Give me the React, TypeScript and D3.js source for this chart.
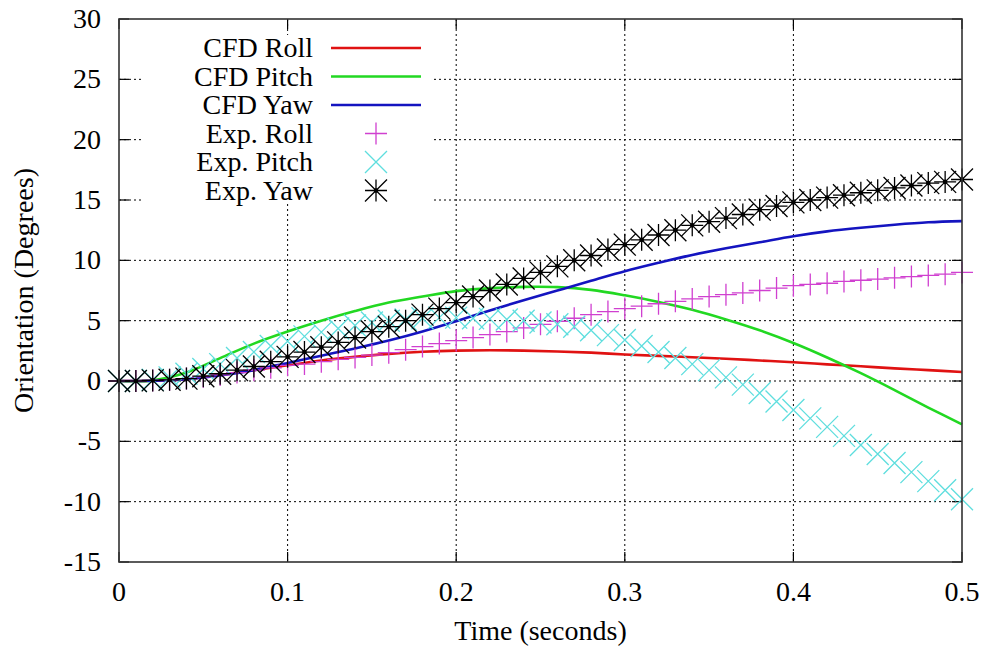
import React from "react";
import * as d3 from "d3";

// Sample times (seconds) for the experimental measurements
const expTime = [
  0, 0.01, 0.02, 0.03, 0.04, 0.05, 0.06, 0.07, 0.08, 0.09,
  0.1, 0.11, 0.12, 0.13, 0.14, 0.15, 0.16, 0.17, 0.18, 0.19,
  0.2, 0.21, 0.22, 0.23, 0.24, 0.25, 0.26, 0.27, 0.28, 0.29,
  0.3, 0.31, 0.32, 0.33, 0.34, 0.35, 0.36, 0.37, 0.38, 0.39,
  0.4, 0.41, 0.42, 0.43, 0.44, 0.45, 0.46, 0.47, 0.48, 0.49, 0.5,
];

const expRoll = [
  0, 0, 0.05, 0.1, 0.2, 0.35, 0.5, 0.7, 0.9, 1.1,
  1.3, 1.4, 1.6, 1.8, 1.95, 2.15, 2.35, 2.6, 2.85, 3.1,
  3.35, 3.6, 3.85, 4.1, 4.4, 4.7, 4.95, 5.2, 5.5, 5.75,
  6.0, 6.2, 6.4, 6.6, 6.8, 7.0, 7.15, 7.3, 7.5, 7.7,
  7.9, 8.0, 8.1, 8.25, 8.35, 8.45, 8.55, 8.65, 8.75, 8.85, 9.0,
];

const expPitch = [
  0, 0, 0.1, 0.3, 0.6, 1.0, 1.4, 1.9, 2.4, 2.9,
  3.3, 3.7, 4.05, 4.35, 4.6, 4.85, 5.0, 5.1, 5.2, 5.25,
  5.25, 5.2, 5.15, 5.1, 5.0, 4.85, 4.7, 4.5, 4.2, 3.8,
  3.4, 2.9, 2.4, 1.9, 1.4, 0.9, 0.3, -0.3, -1.0, -1.7,
  -2.4, -3.1, -3.8, -4.55, -5.3, -6.05, -6.8, -7.55, -8.3, -9.05, -9.8,
];

const expYaw = [
  0, 0, 0.05, 0.1, 0.2, 0.4, 0.6, 0.9, 1.2, 1.6,
  2.0, 2.4, 2.8, 3.2, 3.6, 4.1, 4.5, 5.0, 5.5, 6.0,
  6.5, 7.0, 7.5, 8.0, 8.5, 9.0, 9.5, 10.0, 10.4, 10.9,
  11.3, 11.7, 12.1, 12.5, 12.9, 13.2, 13.5, 13.8, 14.2, 14.5,
  14.8, 15.0, 15.2, 15.4, 15.6, 15.8, 16.0, 16.2, 16.4, 16.5, 16.7,
];

// Simulation output times (seconds)
const cfdTime = [
  0, 0.02, 0.04, 0.06, 0.08, 0.1, 0.12, 0.14, 0.16, 0.18, 0.2, 0.22, 0.24,
  0.26, 0.28, 0.3, 0.32, 0.34, 0.36, 0.38, 0.4, 0.42, 0.44, 0.46, 0.48, 0.5,
];

const cfdRoll = [
  0, 0.02, 0.15, 0.5, 0.9, 1.3, 1.7, 2.0, 2.25, 2.42, 2.52, 2.55, 2.52,
  2.45, 2.35, 2.2, 2.08, 1.97, 1.85, 1.7, 1.55, 1.38, 1.22, 1.05, 0.9, 0.75,
];

const cfdPitch = [
  0, 0.05, 0.7, 1.9, 3.1, 4.1, 5.0, 5.8, 6.5, 7.0, 7.45, 7.7, 7.8,
  7.78, 7.55, 7.1, 6.55, 5.9, 5.1, 4.2, 3.15, 1.95, 0.65, -0.75, -2.2, -3.6,
];

const cfdYaw = [
  0, 0.02, 0.15, 0.45, 0.9, 1.5, 2.1, 2.7, 3.35, 4.1, 4.95, 5.85, 6.7,
  7.5, 8.3, 9.1, 9.8, 10.45, 11.0, 11.5, 12.0, 12.4, 12.7, 12.95, 13.15, 13.25,
];

const xTicks = [0, 0.1, 0.2, 0.3, 0.4, 0.5];
const yTicks = [-15, -10, -5, 0, 5, 10, 15, 20, 25, 30];

const legendLabels = ["CFD Roll", "CFD Pitch", "CFD Yaw", "Exp. Roll", "Exp. Pitch", "Exp. Yaw"];

const W = 988;
const H = 650;
const plot = { left: 119, right: 962, top: 19, bottom: 562 };
const FONT = "'Liberation Serif', 'Times New Roman', serif";

const COLORS = {
  roll: "#e01212",
  pitch: "#22d822",
  yaw: "#1414c0",
  expRoll: "#d040d0",
  expPitch: "#5edede",
  expYaw: "#000000",
};

type MarkerKind = "plus" | "cross" | "star";

function markerPath(kind: MarkerKind, x: number, y: number): string {
  const s = 11;
  const plus = `M${x - s},${y}H${x + s}M${x},${y - s}V${y + s}`;
  const cross = `M${x - s},${y - s}L${x + s},${y + s}M${x - s},${y + s}L${x + s},${y - s}`;
  if (kind === "plus") return plus;
  if (kind === "cross") return cross;
  return plus + cross;
}

export default function App() {
  const x = d3.scaleLinear().domain([0, 0.5]).range([plot.left, plot.right]);
  const y = d3.scaleLinear().domain([-15, 30]).range([plot.bottom, plot.top]);

  const line = (vals: number[]) =>
    d3
      .line<number>()
      .x((_, i) => x(cfdTime[i]))
      .y((d) => y(d))
      .curve(d3.curveCatmullRom.alpha(0.5))(vals) || "";

  const cfdSeries = [
    { vals: cfdRoll, color: COLORS.roll },
    { vals: cfdPitch, color: COLORS.pitch },
    { vals: cfdYaw, color: COLORS.yaw },
  ];

  const expSeries: { vals: number[]; color: string; kind: MarkerKind; dot: boolean }[] = [
    { vals: expRoll, color: COLORS.expRoll, kind: "plus", dot: false },
    { vals: expPitch, color: COLORS.expPitch, kind: "cross", dot: false },
    { vals: expYaw, color: COLORS.expYaw, kind: "star", dot: true },
  ];

  const tickLen = 10;
  const legendX = 313;
  const legendRowY = (i: number) => 48 + i * 28.5;
  const fs = 28;

  return (
    <svg
      width={W}
      height={H}
      style={{ position: "absolute", left: 0, top: 0, background: "#fff" }}
      fontFamily={FONT}
    >
      <rect x={0} y={0} width={W} height={H} fill="#fff" />

      {/* grid */}
      <g stroke="#000" strokeWidth={1} strokeDasharray="2,3">
        {xTicks.slice(1, -1).map((t) => (
          <line key={`gx${t}`} x1={x(t)} x2={x(t)} y1={plot.top} y2={plot.bottom} />
        ))}
        {yTicks.slice(1, -1).map((t) => (
          <line key={`gy${t}`} x1={plot.left} x2={plot.right} y1={y(t)} y2={y(t)} />
        ))}
      </g>

      {/* ticks on all four sides */}
      <g stroke="#000" strokeWidth={1.2}>
        {xTicks.map((t) => (
          <g key={`tx${t}`}>
            <line x1={x(t)} x2={x(t)} y1={plot.bottom} y2={plot.bottom - tickLen} />
            <line x1={x(t)} x2={x(t)} y1={plot.top} y2={plot.top + tickLen} />
          </g>
        ))}
        {yTicks.map((t) => (
          <g key={`ty${t}`}>
            <line x1={plot.left} x2={plot.left + tickLen} y1={y(t)} y2={y(t)} />
            <line x1={plot.right} x2={plot.right - tickLen} y1={y(t)} y2={y(t)} />
          </g>
        ))}
      </g>

      {/* key background */}
      <rect x={143} y={35} width={290} height={168} fill="#fff" />

      {/* simulation curves */}
      {cfdSeries.map((s, i) => (
        <path key={`c${i}`} d={line(s.vals)} fill="none" stroke={s.color} strokeWidth={2.6} />
      ))}

      {/* experimental points */}
      {expSeries.map((s, i) => (
        <g key={`e${i}`} stroke={s.color} strokeWidth={1.3} fill="none">
          {s.vals.map((v, j) => (
            <path key={j} d={markerPath(s.kind, x(expTime[j]), y(v))} />
          ))}
          {s.dot &&
            s.vals.map((v, j) => (
              <circle key={`d${j}`} cx={x(expTime[j])} cy={y(v)} r={2.3} fill={s.color} stroke="none" />
            ))}
        </g>
      ))}

      {/* border */}
      <rect
        x={plot.left}
        y={plot.top}
        width={plot.right - plot.left}
        height={plot.bottom - plot.top}
        fill="none"
        stroke="#333"
        strokeWidth={1.6}
      />

      {/* tick labels */}
      <g fontSize={fs} fill="#000">
        {xTicks.map((t) => (
          <text key={`lx${t}`} x={x(t)} y={601} textAnchor="middle">
            {String(t)}
          </text>
        ))}
        {yTicks.map((t) => (
          <text key={`ly${t}`} x={101} y={y(t) + 9} textAnchor="end">
            {String(t)}
          </text>
        ))}
      </g>

      {/* axis titles */}
      <text x={(plot.left + plot.right) / 2} y={640} textAnchor="middle" fontSize={fs}>
        Time (seconds)
      </text>
      <text
        transform={`translate(33,${(plot.top + plot.bottom) / 2}) rotate(-90)`}
        textAnchor="middle"
        fontSize={fs}
      >
        Orientation (Degrees)
      </text>

      {/* key */}
      <g fontSize={fs}>
        {legendLabels.map((lab, i) => (
          <text key={lab} x={legendX} y={legendRowY(i) + 9} textAnchor="end">
            {lab}
          </text>
        ))}
        {cfdSeries.map((s, i) => (
          <line
            key={`kl${i}`}
            x1={331}
            x2={421}
            y1={legendRowY(i)}
            y2={legendRowY(i)}
            stroke={s.color}
            strokeWidth={2.6}
          />
        ))}
        {expSeries.map((s, i) => (
          <g key={`km${i}`} stroke={s.color} strokeWidth={1.3} fill="none">
            <path d={markerPath(s.kind, 376, legendRowY(i + 3))} />
            {s.dot && <circle cx={376} cy={legendRowY(i + 3)} r={2.3} fill={s.color} stroke="none" />}
          </g>
        ))}
      </g>
    </svg>
  );
}
